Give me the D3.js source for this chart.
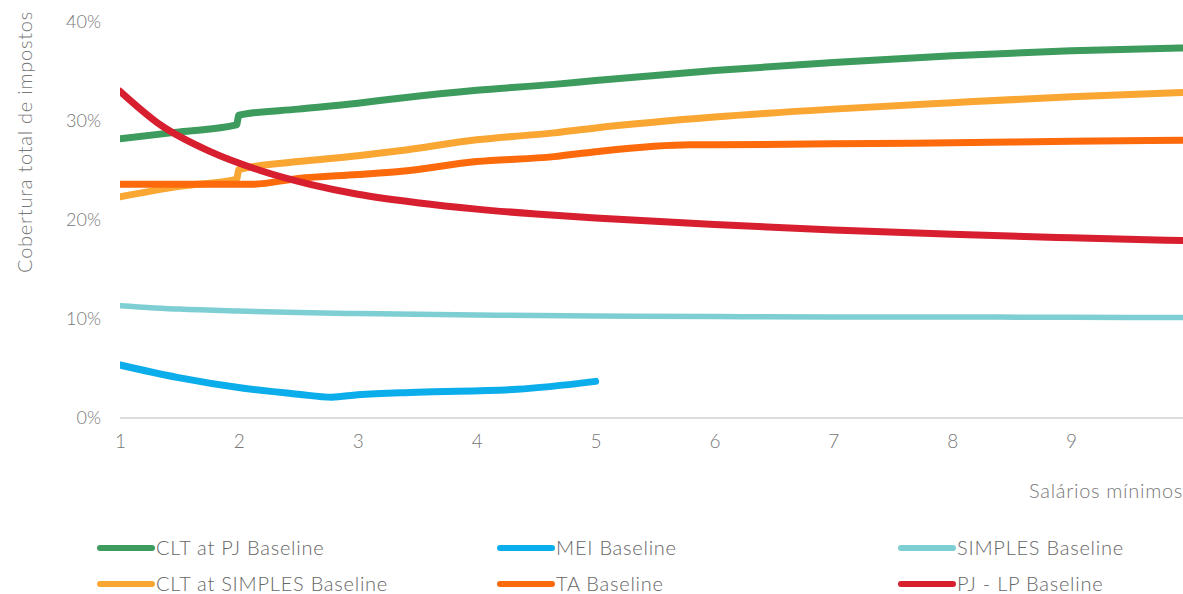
<!DOCTYPE html>
<html><head><meta charset="utf-8">
<script src="https://cdn.jsdelivr.net/npm/d3@7"></script>
<style>
html,body{margin:0;padding:0;background:#fff;}
svg{display:block;font-family:Lato,"Open Sans",sans-serif;font-weight:300;}
</style></head>
<body><svg id="c" width="1183" height="594"></svg>
<script>
// ---- data ----
const seriesNames = ["CLT at PJ Baseline","MEI Baseline","SIMPLES Baseline","CLT at SIMPLES Baseline","TA Baseline","PJ - LP Baseline"];
const seriesColors = ["#3c9b5d","#0badea","#7dcfd3","#f9a633","#fc6a0c","#d71f2f"];

const cltPjX = [1,1.5,1.98,2.0,2.5,3,3.35,4,4.65,5,6,7,8,9,10];
const cltPjY = [28.2,28.9,29.6,30.6,31.2,31.8,32.3,33.1,33.7,34.1,35.1,35.9,36.6,37.1,37.4];

const meiX = [1,1.48,2.04,2.5,2.78,3,3.5,4.34,5.0];
const meiY = [5.35,4.1,3.0,2.4,2.1,2.35,2.6,2.9,3.7];

const simplesX = [1,1.5,2,2.5,3,4,5,6,7,8,9,10];
const simplesY = [11.35,11.0,10.8,10.65,10.55,10.4,10.3,10.25,10.2,10.2,10.17,10.15];

const cltSimplesX = [1,1.5,1.98,2.0,2.5,3,3.35,4,4.65,5,6,7,8,9,10];
const cltSimplesY = [22.35,23.4,24.1,25.1,25.9,26.5,27.0,28.1,28.8,29.3,30.4,31.2,31.85,32.45,32.9];

const taX = [1,2.1,2.5,3,3.35,4,4.65,5,5.8,6,7,8,9,10];
const taY = [23.6,23.6,24.2,24.6,24.9,25.9,26.4,26.9,27.6,27.6,27.7,27.8,27.95,28.05];

const pjLpX = [1,1.34,1.76,2.18,2.6,3,3.5,4,4.5,5,6,7,8,9,10];
const pjLpY = [33.0,29.6,26.9,25.0,23.6,22.6,21.75,21.1,20.6,20.2,19.55,19.0,18.55,18.2,17.9];

const xTicks = [1,2,3,4,5,6,7,8,9];
const yTicks = [0,10,20,30,40];
const xTitle = "Salários mínimos";
const yTitle = "Cobertura total de impostos";

const seriesData = [
  [cltPjX,cltPjY],[meiX,meiY],[simplesX,simplesY],
  [cltSimplesX,cltSimplesY],[taX,taY],[pjLpX,pjLpY]
];
const widths = [7,7,5.5,7,7,7];
const drawOrder = [2,1,3,4,0,5];

// ---- chart ----
const svg = d3.select("#c");
const x = d3.scaleLinear().domain([1,10]).range([120,1190]);
const y = d3.scaleLinear().domain([0,40]).range([418,22]);
const textColor = "#777";

svg.append("defs").append("clipPath").attr("id","clip")
  .append("rect").attr("x",120).attr("y",0).attr("width",1063).attr("height",430);

// baseline
svg.append("line").attr("x1",120).attr("x2",1183).attr("y1",y(0)).attr("y2",y(0))
  .attr("stroke","#dcdcdc").attr("stroke-width",2);

// y axis labels
const yAxis = d3.axisLeft(y).tickValues(yTicks).tickFormat(d=>d+"%").tickSize(0).tickPadding(0);
const gy = svg.append("g").attr("transform","translate(101,0)").call(yAxis);
gy.select(".domain").remove();
gy.selectAll("text").attr("fill",textColor).style("font-size","18px").style("font-family","Lato, sans-serif").style("font-weight","300");

// x axis labels
const xAxis = d3.axisBottom(x).tickValues(xTicks).tickFormat(d3.format("d")).tickSize(0).tickPadding(0);
const gx = svg.append("g").attr("transform","translate(0,434)").call(xAxis);
gx.select(".domain").remove();
gx.selectAll("text").attr("fill",textColor).style("font-size","19px").style("font-family","Lato, sans-serif").style("font-weight","300");

// titles
svg.append("text").attr("x",1183).attr("y",498).attr("text-anchor","end")
  .attr("fill",textColor).style("font-size","20px").style("letter-spacing","0.7px").text(xTitle);
svg.append("text").attr("transform","translate(32,142) rotate(-90)").attr("text-anchor","middle")
  .attr("fill",textColor).style("font-size","20px").style("letter-spacing","0.75px").text(yTitle);

// lines
const line = d3.line().x(d=>x(d[0])).y(d=>y(d[1])).curve(d3.curveMonotoneX);
const gl = svg.append("g").attr("clip-path","url(#clip)");
drawOrder.forEach(i=>{
  const [xs,ys] = seriesData[i];
  const pts = xs.map((v,k)=>[v,ys[k]]);
  gl.append("path").datum(pts).attr("d",line).attr("fill","none")
    .attr("stroke",seriesColors[i]).attr("stroke-width",widths[i])
    .attr("stroke-linejoin","round").attr("stroke-linecap","round");
});

// legend
const legCols = [100,500,901];
const legRows = [548,584];
const legend = svg.append("g");
seriesNames.forEach((name,i)=>{
  const cx = legCols[i%3], cy = legRows[Math.floor(i/3)];
  legend.append("line").attr("x1",cx).attr("x2",cx+52).attr("y1",cy).attr("y2",cy)
    .attr("stroke",seriesColors[i]).attr("stroke-width",6).attr("stroke-linecap","round");
  legend.append("text").attr("x",cx+56).attr("y",cy).attr("dy","0.35em")
    .attr("fill","#666").style("font-size","20px").style("letter-spacing","0.75px").text(name);
});
</script></body></html>
